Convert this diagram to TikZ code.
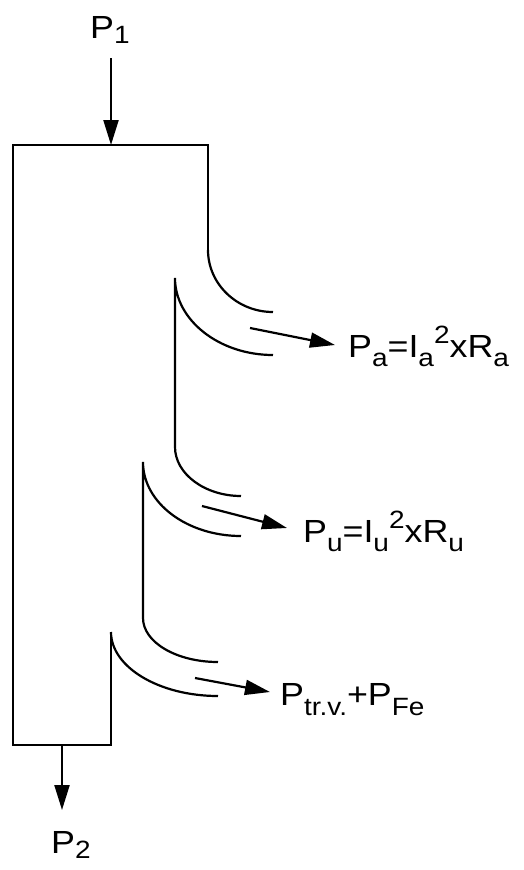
\documentclass[tikz,border=0pt]{standalone}
\usepackage{fontspec}
\setmainfont{Liberation Sans}[FakeStretch=1.12]
\usetikzlibrary{arrows.meta}
\newcommand{\sbx}[2][9]{\raisebox{-#1pt}{\fontsize{25}{25}\selectfont #2}}
\newcommand{\spx}[1]{\raisebox{14pt}{\fontsize{25}{25}\selectfont #1}}
\begin{document}
\begin{tikzpicture}[x=1pt,y=-1pt,line width=2.2pt,
  flow/.style={-{Triangle[length=25pt,width=15pt]}},
  lbl/.style={anchor=base west,inner sep=0pt,font=\fontsize{32}{38}\selectfont}]
\useasboundingbox (0,0) rectangle (524,870);
% box corners
\coordinate (tl) at (13,145);
\coordinate (tr) at (208,145);
\coordinate (bl) at (13,745);
\coordinate (br) at (111,745);
\coordinate (tin) at (111,145);
\coordinate (bout) at (62,745);
% branch points
\coordinate (b1s) at (208,250); \coordinate (b1e) at (273,312);
\coordinate (c1t) at (175,278); \coordinate (c1e) at (273,355);
\coordinate (b2s) at (175,447); \coordinate (b2e) at (241,496);
\coordinate (c2t) at (143,462); \coordinate (c2e) at (241,536);
\coordinate (b3s) at (143,618); \coordinate (b3e) at (218,662);
\coordinate (c3t) at (111,632); \coordinate (c3e) at (218,696);
% arrow ends
\coordinate (inS) at (111,58);
\coordinate (outE) at (62,810);
\coordinate (a1s) at (250,328); \coordinate (a1e) at (335,345);
\coordinate (a2s) at (202,506); \coordinate (a2e) at (287,528);
\coordinate (a3s) at (195,678); \coordinate (a3e) at (270,692);
% outline
\draw (b1s) -- (tr) -- (tl) -- (bl) -- (br) -- (c3t);
\draw (b1s) .. controls +(0,34) and +(-36,0) .. (b1e);
\draw (c1e) .. controls +(-54,0) and +(0,42) .. (c1t) -- (b2s)
      .. controls +(0,27) and +(-36,0) .. (b2e);
\draw (c2e) .. controls +(-54,0) and +(0,41) .. (c2t) -- (b3s)
      .. controls +(0,24) and +(-42,0) .. (b3e);
\draw (c3e) .. controls +(-59,0) and +(0,35) .. (c3t);
% arrows
\draw[flow] (inS) -- (tin);
\draw[flow] (bout) -- (outE);
\draw[flow] (a1s) -- (a1e);
\draw[flow] (a2s) -- (a2e);
\draw[flow] (a3s) -- (a3e);
% labels
\node[lbl] (p1) at (89,38) {P\sbx[5]{1}};
\node[lbl] (p2) at (50,853) {P\sbx[5]{2}};
\node[lbl] (pa) at (347,357) {P\sbx{a}=I\sbx{a}\spx{2}xR\sbx{a}};
\node[lbl] (pu) at (302,542) {P\sbx{u}=I\sbx{u}\spx{2}xR\sbx{u}};
\node[lbl] (pt) at (279,705) {P\sbx[10]{tr.v.}+P\sbx[10]{Fe}};
\end{tikzpicture}
\end{document}
